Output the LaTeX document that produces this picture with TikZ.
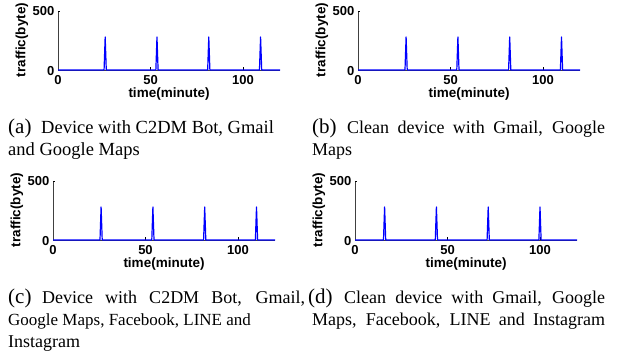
\documentclass[tikz,border=0pt]{standalone}
\usepackage{fontspec}
\setmainfont{Liberation Serif}
\newfontfamily\plotfont{Liberation Sans}
\tikzset{
  axisline/.style={draw=black!75, line width=0.7pt},
  tickmark/.style={draw=black, line width=0.6pt},
  trace/.style={draw=blue, line width=1.2pt, line join=round},
  ticklab/.style={font=\plotfont\bfseries\fontsize{13}{13}\selectfont, inner sep=0pt},
  axlab/.style={font=\plotfont\bfseries\fontsize{13.5}{13.5}\selectfont, inner sep=0pt},
  sublab/.style={font=\fontsize{21}{21}\selectfont, inner sep=0pt, anchor=base west},
  captext/.style={font=\fontsize{18}{18}\selectfont, inner sep=0pt, anchor=base west},
}
% #1 name, #2 left of axis (pt), #3 depth of x-axis below the top (pt), #4 first burst (minute)
\newcommand\trafficplot[4]{%
  \begin{scope}[shift={(#2,-#3)}]
    % axis frame, ticks and the blue traffic trace: x in minutes, y in bytes
    \begin{scope}[xscale=1.85, yscale=0.118]
      \draw[axisline] (0,500) -- (0,0) -- (120,0);
      \draw[tickmark] (0,500) -- (1.3,500);
      \foreach \t in {50,100} \draw[tickmark] (\t,0) -- (\t,22);
      \draw[trace] (0,0)
        \foreach \k in {0,...,3} {
          -- ({#4+28*\k-0.6},0) -- ({#4+28*\k},280) -- ({#4+28*\k+0.6},0)
        } -- (120,0);
    \end{scope}
    \node[ticklab, anchor=east] (#1-y500) at (-3.5,59) {500};
    \node[ticklab, anchor=east] (#1-y0) at (-3.5,-1) {0};
    \node[ticklab] (#1-x0) at (0,-10) {0};
    \node[ticklab] (#1-x50) at (92.5,-10) {50};
    \node[ticklab] (#1-x100) at (185,-10) {100};
    \node[axlab] (#1-xlab) at (111,-24) {time(minute)};
    \node[axlab, rotate=90] (#1-ylab) at (-36,30) {traffic(byte)};
  \end{scope}}
\begin{document}
\begin{tikzpicture}[x=1pt, y=1pt]
  \useasboundingbox (0,0) rectangle (621,-351);

  \trafficplot{pa}{58}{70}{25.5}
  \trafficplot{pb}{358}{70}{26}
  \trafficplot{pc}{53}{240}{26}
  \trafficplot{pd}{355}{240}{16}

  % sub-captions, top row
  \node[sublab] (cap-a) at (8,-133) {(a)};
  \node[captext, font=\fontsize{18.5}{18.5}\selectfont] (cap-a1) at (41,-133) {Device with C2DM Bot, Gmail};
  \node[captext, font=\fontsize{18.5}{18.5}\selectfont] (cap-a2) at (8,-155) {and Google Maps};
  \node[sublab] (cap-b) at (312,-133) {(b)};
  \node[captext] (cap-b1) at (347,-133) {\makebox[258pt][s]{Clean device with Gmail, Google}};
  \node[captext] (cap-b2) at (312,-155) {Maps};

  % sub-captions, bottom row
  \node[sublab] (cap-c) at (8,-303) {(c)};
  \node[captext] (cap-c1) at (42,-303) {\makebox[263pt][s]{Device with C2DM Bot, Gmail,}};
  \node[captext, font=\fontsize{17}{17}\selectfont] (cap-c2) at (8,-325) {Google Maps, Facebook, LINE and};
  \node[captext] (cap-c3) at (8,-347) {Instagram};
  \node[sublab] (cap-d) at (308,-303) {(d)};
  \node[captext] (cap-d1) at (344,-303) {\makebox[261pt][s]{Clean device with Gmail, Google}};
  \node[captext] (cap-d2) at (312,-325) {\makebox[293pt][s]{Maps, Facebook, LINE and Instagram}};
\end{tikzpicture}
\end{document}
